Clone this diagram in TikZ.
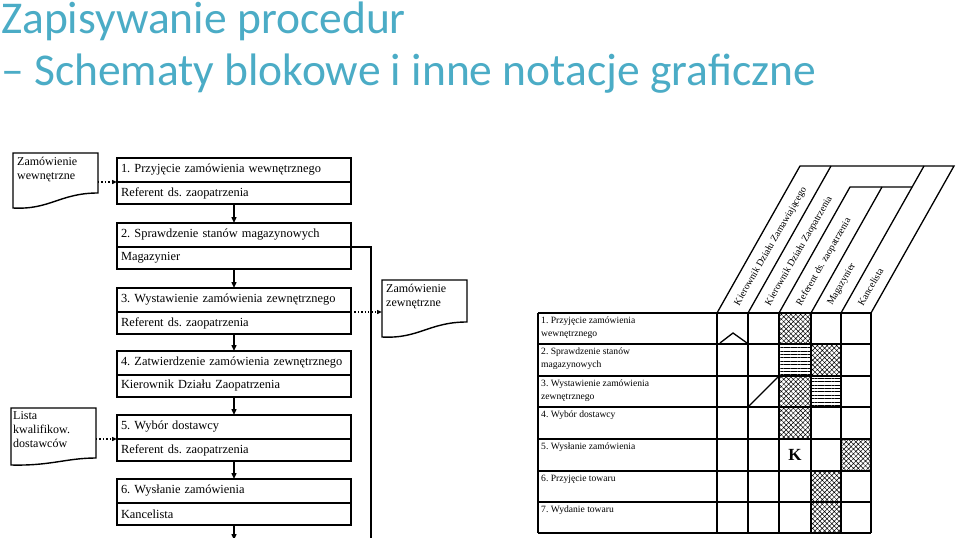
\documentclass[tikz,border=0pt]{standalone}
\usepackage{fontspec}
\setmainfont{Liberation Serif}
\newfontfamily\titlefont{Carlito}
\usetikzlibrary{arrows.meta,patterns.meta,calc}
\definecolor{titleblue}{HTML}{4BACC6}
\frenchspacing
\begin{document}
\begin{tikzpicture}[x=1pt,y=-1pt,
  titletext/.style={anchor=base west,inner sep=0pt,text=titleblue,font=\titlefont\fontsize{45.5}{46}\selectfont},
  stepbox/.style={draw,line width=1.6pt,anchor=north west,minimum width=234pt,text width=226pt,inner xsep=4pt,inner ysep=0pt,align=left,outer sep=0pt,font=\fontsize{12.4}{14}\selectfont},
  stepup/.style={stepbox,minimum height=24pt},
  steplow/.style={stepbox,minimum height=22pt},
  docframe/.style={anchor=north west,inner sep=0pt,outer sep=0pt},
  doctext/.style={anchor=north west,inner sep=0pt,align=left,font=\fontsize{12}{14}\selectfont},
  flow/.style={line width=1.4pt,-{Triangle[length=6pt,width=5pt]}},
  dotflow/.style={line width=1.4pt,dotted,-{Triangle[length=5pt,width=4pt]}},
  grid/.style={line width=1.3pt},
  rowtext/.style={anchor=north west,inner sep=0pt,align=left,font=\fontsize{9.6}{13}\selectfont},
  headtext/.style={anchor=west,rotate=60,inner sep=0pt,font=\fontsize{9.8}{10}\selectfont},
  xhatch/.style={pattern={Hatch[angle=45,distance=3.4pt,line width=0.5pt]}},
  hlines/.style={pattern={Lines[angle=0,distance=3.4pt,line width=0.6pt]}},
  cellborder/.style={line width=2pt}
]
\useasboundingbox (0,0) rectangle (959,538);
\fill[white] (0,0) rectangle (959,538);

% title
\node[titletext] (t1) at (1,33) {Zapisywanie procedur};
\node[titletext] (t2) at (1,85) {– Schematy blokowe i inne notacje graficzne};

% flowchart boxes
\node[stepup]  (b1)  at (117,158) {1. Przyjęcie zamówienia wewnętrznego};
\node[steplow] (b1r) at (b1.south west) {Referent ds. zaopatrzenia};
\node[stepup]  (b2)  at (117,223) {2. Sprawdzenie stanów magazynowych};
\node[steplow] (b2r) at (b2.south west) {Magazynier};
\node[stepup]  (b3)  at (117,288) {3. Wystawienie zamówienia zewnętrznego};
\node[steplow] (b3r) at (b3.south west) {Referent ds. zaopatrzenia};
\node[stepup]  (b4)  at (117,351) {4. Zatwierdzenie zamówienia zewnętrznego};
\node[steplow] (b4r) at (b4.south west) {Kierownik Działu Zaopatrzenia};
\node[stepup]  (b5)  at (117,415) {5. Wybór dostawcy};
\node[steplow] (b5r) at (b5.south west) {Referent ds. zaopatrzenia};
\node[stepup]  (b6)  at (117,479) {6. Wysłanie zamówienia};
\node[steplow] (b6r) at (b6.south west) {Kancelista};
\coordinate (b6end) at (234,540);
\coordinate (vend) at (371,540);

\draw[flow] (b1r.south) -- (b2.north);
\draw[flow] (b2r.south) -- (b3.north);
\draw[flow] (b3r.south) -- (b4.north);
\draw[flow] (b4r.south) -- (b5.north);
\draw[flow] (b5r.south) -- (b6.north);
\draw[flow] (b6r.south) -- (b6end);
\draw[line width=1.4pt] (b2.south east) -| (vend);

% documents
\node[docframe,minimum width=85pt,minimum height=55pt] (d1) at (13,153) {};
\draw[line width=1.4pt] (d1.north west) -- (d1.north east) -- ($(d1.south east)+(0,-15)$)
  .. controls +(-38,0) and +(37,2) .. (d1.south west) -- cycle;
\node[doctext] (d1t) at ($(d1.north west)+(4,4)$) {Zamówienie\\wewnętrzne};

\node[docframe,minimum width=85pt,minimum height=57pt] (d2) at (11,408) {};
\draw[line width=1.4pt] (d2.north west) -- (d2.north east) -- ($(d2.south east)+(0,-7)$)
  .. controls +(-30,0) and +(40,1) .. (d2.south west) -- cycle;
\node[doctext] (d2t) at ($(d2.north west)+(2,3)$) {Lista\\kwalifikow.\\dostawców};

\node[docframe,minimum width=85pt,minimum height=57pt] (d3) at (382,280) {};
\draw[line width=1.4pt] (d3.north west) -- (d3.north east) -- ($(d3.south east)+(0,-15)$)
  .. controls +(-38,0) and +(37,2) .. (d3.south west) -- cycle;
\node[doctext] (d3t) at ($(d3.north west)+(4,4)$) {Zamówienie\\zewnętrzne};

\draw[dotflow] (d1.east |- b1.south) -- (b1.south west);
\draw[dotflow] (d2.east |- b5.south) -- (b5.south west);
\draw[dotflow] (b3.south east) -- (d3.west |- b3.south);

% matrix: patterned cells
\fill[xhatch] (779,313) rectangle (811,344);
\fill[hlines] (779,344) rectangle (811,376);
\fill[xhatch] (811,344) rectangle (841,376);
\fill[xhatch] (779,376) rectangle (811,407);
\fill[hlines] (811,376) rectangle (841,407);
\fill[xhatch] (779,407) rectangle (811,439);
\fill[xhatch] (841,439) rectangle (871,471);
\fill[xhatch] (811,471) rectangle (841,502);
\fill[xhatch] (811,502) rectangle (841,533);

% matrix grid
\foreach \yy in {313,344,376,407,439,471,502,533}
  \draw[grid] (538,\yy) -- (871,\yy);
\foreach \xx in {538,717,748,779,811,841,871}
  \draw[grid] (\xx,313) -- (\xx,533);

\draw[cellborder] (779,313) rectangle (811,439);
\draw[cellborder] (779,344) -- (811,344) (779,376) -- (811,376) (779,407) -- (811,407);
\draw[cellborder] (811,344) rectangle (841,407);
\draw[cellborder] (841,439) rectangle (871,471);
\draw[cellborder] (811,471) rectangle (841,533);

% slanted header
\draw[grid] (717,313) -- (800,166) -- (954,166) -- (871,313);
\draw[grid] (748,313) -- (831,166);
\draw[grid] (779,313) -- (850,187) -- (912,187);
\draw[grid] (811,313) -- (882,187);
\draw[grid] (841,313) -- (924,166);

\node[headtext] (h1) at (737,305) {Kierownik Działu Zamawiającego};
\node[headtext] (h2) at (768,305) {Kierownik Działu Zaopatrzenia};
\node[headtext] (h3) at (799,305) {Referent ds. zaopatrzenia};
\node[headtext] (h4) at (830,305) {Magazynier};
\node[headtext] (h5) at (860,305) {Kancelista};

% row labels
\node[rowtext] (r1) at (541,317) {1. Przyjęcie zamówienia\\wewnętrznego};
\node[rowtext] (r2) at (541,348) {2. Sprawdzenie stanów\\magazynowych};
\node[rowtext] (r3) at (541,380) {3. Wystawienie zamówienia\\zewnętrznego};
\node[rowtext] (r4) at (541,411) {4. Wybór dostawcy};
\node[rowtext] (r5) at (541,443) {5. Wysłanie zamówienia};
\node[rowtext] (r6) at (541,475) {6. Przyjęcie towaru};
\node[rowtext] (r7) at (541,506) {7. Wydanie towaru};

% marks
\draw[line width=1.3pt] (720,343) -- (733,333) -- (747,343);
\draw[line width=1.3pt] (748,407) -- (779,376);
\node[font=\bfseries\fontsize{17}{17}\selectfont,inner sep=0pt] (k) at (795,455) {K};
\end{tikzpicture}
\end{document}
